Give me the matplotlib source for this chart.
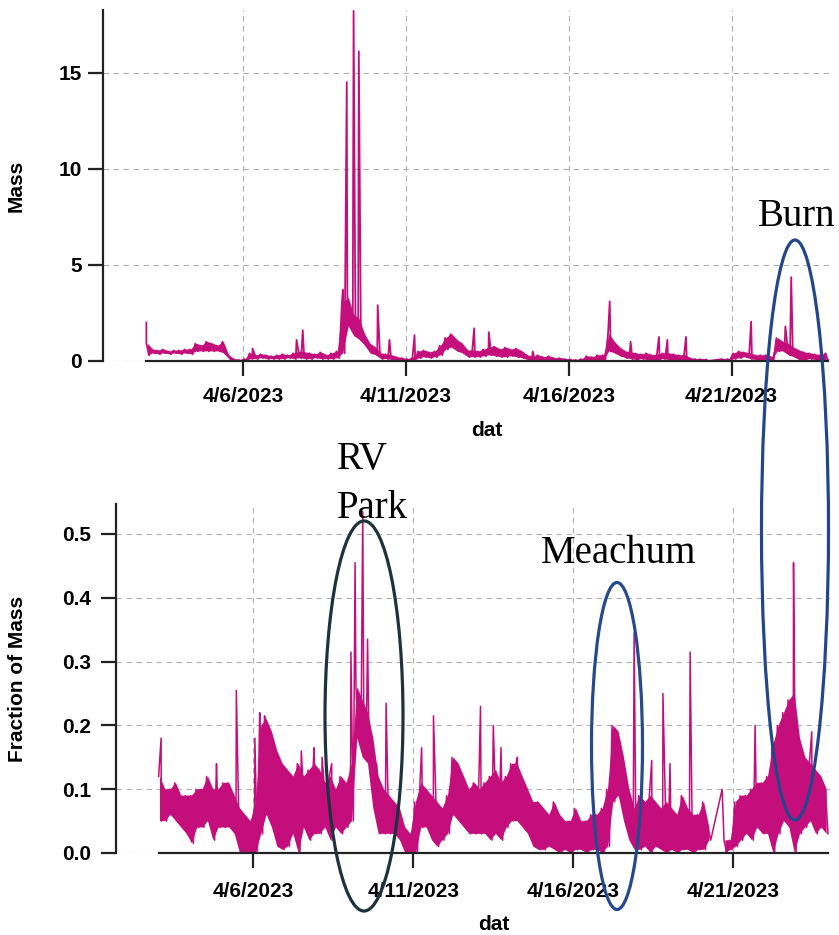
import numpy as np
import matplotlib
matplotlib.use("Agg")
import matplotlib.pyplot as plt
import matplotlib.dates as mdates
from matplotlib.patches import Ellipse
from matplotlib.ticker import FuncFormatter, FormatStrFormatter
from datetime import datetime

nan = np.nan
start = datetime(2023, 4, 3)

# 4-hour bins (6 per day) starting 4/3/2023, band high / low
mass_hi = [
    0.9, 0.6, 0.55, 0.6, 0.5, 0.55,
    0.55, 0.6, 0.6, 0.9, 0.8, 1.0,
    0.9, 0.8, 1.0, 0.3, 0.1, 0.05,
    0.1, 0.4, 0.3, 0.35, 0.3, 0.25,
    0.3, 0.35, 0.3, 0.4, 0.5, 0.45,
    0.4, 0.35, 0.45, 0.3, 0.4, 0.5,
    3.0, 3.3, 2.4, 2.2, 1.4, 0.9,
    0.7, 0.4, 0.35, 0.3, 0.2, 0.15,
    0.1, 0.2, 0.5, 0.55, 0.45, 0.5,
    0.8, 1.2, 1.4, 1.1, 0.9, 0.55,
    0.55, 0.5, 0.6, 0.7, 0.75, 0.6,
    0.7, 0.6, 0.65, 0.5, 0.3, 0.2,
    0.3, 0.2, 0.25, 0.15, 0.15, 0.1,
    0.08, 0.05, 0.1, 0.25, 0.2, 0.3,
    0.3, 1.4, 1.0, 0.7, 0.5, 0.45,
    0.4, 0.35, 0.4, 0.3, 0.35, 0.4,
    0.4, 0.35, 0.3, 0.3, 0.15, 0.1,
    0.1, 0.08, nan, nan, 0.1, 0.1,
    0.4, 0.5, 0.45, 0.4, 0.3, 0.3,
    0.3, 0.2, 1.2, 1.0, 0.9, 0.7,
    0.55, 0.45, 0.4, 0.35, 0.3, 0.4,
]
mass_lo = [
    0.3, 0.4, 0.35, 0.4, 0.35, 0.4,
    0.35, 0.4, 0.35, 0.5, 0.5, 0.5,
    0.5, 0.5, 0.4, 0.1, 0.0, 0.0,
    0.0, 0.1, 0.1, 0.15, 0.1, 0.1,
    0.1, 0.1, 0.15, 0.1, 0.15, 0.1,
    0.1, 0.15, 0.1, 0.1, 0.1, 0.15,
    0.4, 1.8, 1.3, 1.1, 0.8, 0.4,
    0.3, 0.1, 0.1, 0.05, 0.05, 0.0,
    0.0, 0.0, 0.15, 0.2, 0.15, 0.2,
    0.3, 0.6, 0.7, 0.5, 0.4, 0.2,
    0.2, 0.2, 0.25, 0.3, 0.25, 0.2,
    0.2, 0.25, 0.2, 0.15, 0.05, 0.05,
    0.05, 0.05, 0.05, 0.0, 0.05, 0.0,
    0.0, 0.0, 0.0, 0.05, 0.05, 0.05,
    0.05, 0.5, 0.4, 0.25, 0.15, 0.1,
    0.05, 0.1, 0.05, 0.05, 0.05, 0.1,
    0.05, 0.05, 0.05, 0.05, 0.0, 0.0,
    0.0, 0.0, nan, nan, 0.0, 0.0,
    0.1, 0.15, 0.2, 0.1, 0.05, 0.05,
    0.05, 0.05, 0.5, 0.5, 0.3, 0.2,
    0.05, 0.05, 0.1, 0.05, 0.05, 0.05,
]
mass_spike_day = [0.04, 3.3, 4.65, 4.84, 6.07, 6.19, 6.4, 6.56, 7.14, 7.5, 8.27,
                  10.1, 10.55, 11.9, 14.26, 14.9, 15.77, 16.03, 16.6, 18.6, 19.65, 19.83]
mass_spike_val = [2.0, 0.65, 1.1, 1.6, 3.7, 14.5, 18.2, 16.1, 2.9, 1.1, 1.35,
                  1.7, 1.5, 0.5, 3.1, 1.0, 1.25, 1.1, 1.25, 2.05, 1.8, 4.36]

frac_hi = [
    0.12, 0.10, 0.10, 0.11, 0.09, 0.09,
    0.09, 0.10, 0.10, 0.12, 0.10, 0.10,
    0.11, 0.11, 0.09, 0.07, 0.06, 0.05,
    0.08, 0.20, 0.21, 0.19, 0.16, 0.14,
    0.13, 0.12, 0.14, 0.12, 0.13, 0.14,
    0.13, 0.11, 0.12, 0.10, 0.12, 0.11,
    0.14, 0.26, 0.24, 0.22, 0.18, 0.12,
    0.10, 0.09, 0.08, 0.07, 0.04, 0.03,
    0.08, 0.11, 0.10, 0.09, 0.08, 0.07,
    0.09, 0.15, 0.14, 0.12, 0.10, 0.11,
    0.10, 0.11, 0.12, 0.13, 0.11, 0.12,
    0.14, 0.14, 0.12, 0.10, 0.08, 0.08,
    0.07, 0.06, 0.08, 0.06, 0.05, 0.05,
    0.07, 0.05, 0.05, 0.06, 0.06, 0.07,
    0.10, 0.20, 0.19, 0.15, 0.10, 0.07,
    0.09, 0.08, 0.09, 0.08, 0.07, 0.08,
    0.07, 0.06, 0.09, 0.07, 0.06, 0.06,
    0.08, 0.04, nan, nan, 0.02, 0.02,
    0.08, 0.09, 0.09, 0.10, 0.11, 0.11,
    0.12, 0.17, 0.20, 0.22, 0.24, 0.25,
    0.18, 0.15, 0.14, 0.13, 0.12, 0.10,
]
frac_lo = [
    0.05, 0.05, 0.06, 0.05, 0.04, 0.03,
    0.015, 0.04, 0.04, 0.05, 0.02, 0.04,
    0.04, 0.04, 0.03, 0.0, 0.0, 0.0,
    0.0, 0.03, 0.06, 0.04, 0.01, 0.005,
    0.01, 0.03, 0.0, 0.04, 0.02, 0.03,
    0.03, 0.04, 0.02, 0.04, 0.03, 0.04,
    0.05, 0.18, 0.15, 0.14, 0.07, 0.03,
    0.03, 0.03, 0.03, 0.02, 0.0, 0.0,
    0.0, 0.04, 0.04, 0.02, 0.01, 0.02,
    0.03, 0.06, 0.05, 0.04, 0.03, 0.03,
    0.03, 0.03, 0.02, 0.03, 0.02, 0.04,
    0.05, 0.05, 0.04, 0.03, 0.01, 0.005,
    0.005, 0.01, 0.005, 0.0, 0.005, 0.0,
    0.005, 0.005, 0.0, 0.005, 0.005, 0.0,
    0.01, 0.08, 0.09, 0.05, 0.02, 0.005,
    0.005, 0.01, 0.0, 0.01, 0.005, 0.0,
    0.005, 0.0, 0.005, 0.005, 0.0, 0.005,
    0.005, 0.02, nan, nan, 0.0, 0.005,
    0.01, 0.02, 0.03, 0.02, 0.04, 0.03,
    0.03, 0.0, 0.03, 0.05, 0.04, 0.0,
    0.03, 0.04, 0.05, 0.03, 0.04, 0.03,
]
frac_spike_day = [0.12, 1.85, 2.47, 3.05, 3.2, 3.35, 4.5, 4.9, 5.15, 5.45, 6.05, 6.18,
                  6.42, 6.57, 6.85, 7.15, 8.26, 8.63, 10.1, 10.5, 10.74, 11.25, 14.9,
                  15.45, 15.8, 16.02, 16.65, 17.65, 18.68, 19.88, 20.45]
frac_spike_val = [0.18, 0.14, 0.255, 0.18, 0.22, 0.215, 0.16, 0.165, 0.15, 0.14, 0.315, 0.455,
                  0.535, 0.335, 0.14, 0.235, 0.165, 0.215, 0.23, 0.2, 0.165, 0.15, 0.345,
                  0.145, 0.25, 0.14, 0.315, 0.10, 0.2, 0.455, 0.19]

tick_dates = [datetime(2023, 4, 6), datetime(2023, 4, 11), datetime(2023, 4, 16), datetime(2023, 4, 21)]
mass_ticks = [0, 5, 10, 15]
frac_ticks = [0.0, 0.1, 0.2, 0.3, 0.4, 0.5]

W, H = 839, 935
line_color = "#c40e7c"


def build(hi, lo, sp_day, sp_val):
    hi = np.array(hi, float)
    lo = np.array(lo, float)
    n = len(hi)
    t = np.concatenate([np.arange(n) / 6 + 1 / 24, np.arange(n) / 6 + 3 / 24, sp_day])
    v = np.concatenate([hi, lo, sp_val])
    order = np.argsort(t, kind="stable")
    t, v = t[order], v[order]
    keep = ~np.isnan(v)
    return mdates.date2num(start) + t[keep], v[keep]


def band(ax, hi, lo):
    hi = np.array(hi, float)
    lo = np.array(lo, float)
    tc = mdates.date2num(start) + np.arange(len(hi)) / 6 + 2 / 24
    ax.fill_between(tc, lo, hi, color=line_color, lw=0, zorder=2)


def fx(x):
    return x / W


def fy(y):
    return 1 - y / H


plt.rcParams["font.family"] = ["Liberation Sans", "DejaVu Sans"]
plt.rcParams["font.weight"] = "bold"

fig = plt.figure(figsize=(W / 100, H / 100), dpi=100)
ax1 = fig.add_axes([fx(103), fy(361), (830 - 103) / W, (361 - 10) / H])
ax2 = fig.add_axes([fx(116), fy(853), (830 - 116) / W, (853 - 504) / H])

x0 = mdates.date2num(start) - 1.29
x1 = mdates.date2num(start) + 21.02

t1, v1 = build(mass_hi, mass_lo, mass_spike_day, mass_spike_val)
t2, v2 = build(frac_hi, frac_lo, frac_spike_day, frac_spike_val)

band(ax1, mass_hi, mass_lo)
band(ax2, frac_hi, frac_lo)
ax1.plot(t1, v1, color=line_color, lw=1.3, zorder=3)
ax2.plot(t2, v2, color=line_color, lw=1.1, zorder=3)

date_fmt = FuncFormatter(lambda x, pos: "{d.month}/{d.day}/{d.year}".format(d=mdates.num2date(x)))

for ax, t, ylim, yt, yfmt, ylab, xpad, ypad in [
    (ax1, t1, 18.25, mass_ticks, "%d", "Mass", 8, 4),
    (ax2, t2, 0.547, frac_ticks, "%.1f", "Fraction of Mass", 10, 7),
]:
    ax.set_xlim(x0, x1)
    ax.set_ylim(0, ylim)
    ax.set_xticks(mdates.date2num(tick_dates))
    ax.xaxis.set_major_formatter(date_fmt)
    ax.set_yticks(yt)
    ax.yaxis.set_major_formatter(FormatStrFormatter(yfmt))
    for s in ["top", "right"]:
        ax.spines[s].set_visible(False)
    ax.spines["left"].set_bounds(0, ylim)
    ax.spines["bottom"].set_bounds(t[0], t[-1])
    for s in ["left", "bottom"]:
        ax.spines[s].set_linewidth(1.6)
        ax.spines[s].set_color("#222222")
        ax.spines[s].set_zorder(4)
    ax.grid(True, ls=(0, (5, 4)), color="#b0b0b0", lw=0.8)
    ax.tick_params(axis="x", direction="out", length=11, width=1.6, labelsize=15, pad=xpad, color="#222222")
    ax.tick_params(axis="y", direction="out", length=11, width=1.6, labelsize=15, pad=ypad, color="#222222")
    ax.set_xlabel("dat", fontsize=15, fontweight="bold")
    ax.set_ylabel(ylab, fontsize=15, fontweight="bold")
    mid = ((t[0] + t[-1]) / 2 - x0) / (x1 - x0)
    if ax is ax1:
        ax.xaxis.set_label_coords(mid, -0.171)
        ax.yaxis.set_label_coords(-0.107, 0.5)
    else:
        ax.xaxis.set_label_coords(mid, -0.178)
        ax.yaxis.set_label_coords(-0.125, 0.5)

# annotations (figure pixel positions)
serif = ["Liberation Serif", "DejaVu Serif"]
fig.text(fx(797), fy(226), "Burn", ha="center", va="baseline", fontsize=28,
         family=serif, fontweight="normal")
fig.text(fx(337), fy(469), "RV", ha="left", va="baseline", fontsize=28,
         family=serif, fontweight="normal")
fig.text(fx(337), fy(518), "Park", ha="left", va="baseline", fontsize=28,
         family=serif, fontweight="normal")
fig.text(fx(619), fy(563), "Meachum", ha="center", va="baseline", fontsize=28,
         family=serif, fontweight="normal")

for cx, cy, w, h, col in [
    (364, 716, 78, 390, "#1c333d"),
    (617, 746, 51, 327, "#26498c"),
    (795, 530, 67, 580, "#23468a"),
]:
    fig.add_artist(Ellipse((fx(cx), fy(cy)), w / W, h / H, transform=fig.transFigure,
                           fill=False, edgecolor=col, lw=2.3, zorder=5))

fig.savefig("out.png", dpi=100)
